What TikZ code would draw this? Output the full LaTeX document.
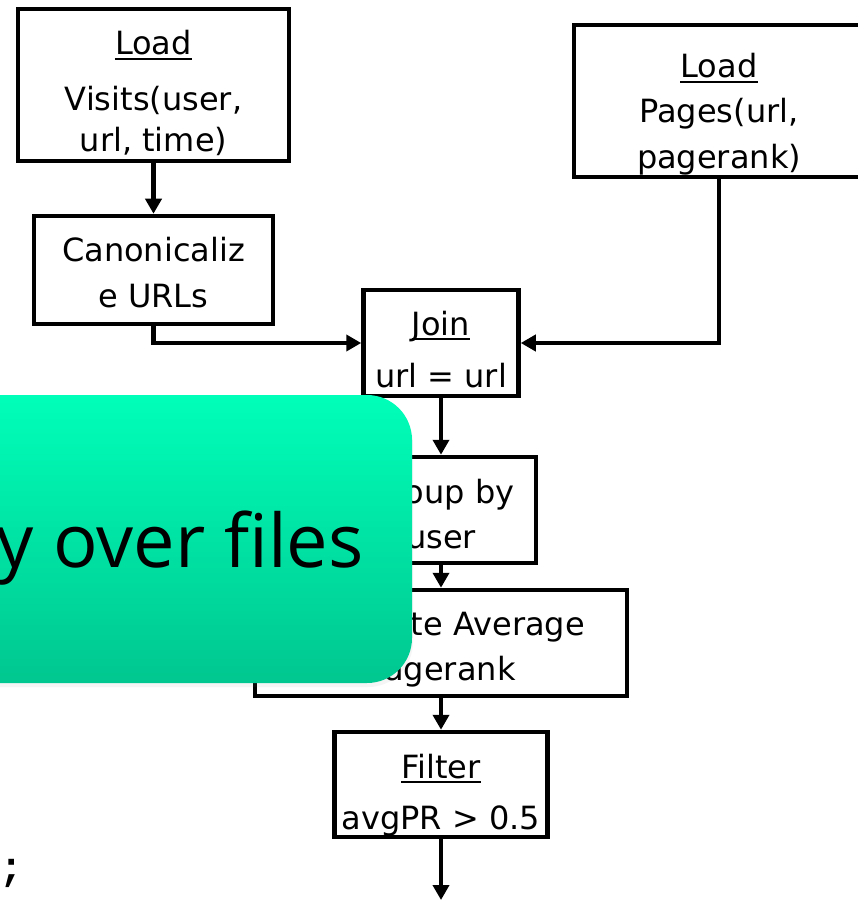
\documentclass[tikz,border=0pt]{standalone}
\usepackage{fontspec}
\setmainfont{DejaVu Sans}
\newfontfamily\calloutfont{Open Sans}
\newfontfamily\codefont{Liberation Mono}
\usetikzlibrary{arrows.meta,shadows}

\definecolor{calltop}{RGB}{0,255,185}
\definecolor{callbot}{RGB}{0,199,143}

\begin{document}
\begin{tikzpicture}[x=1pt,y=-1pt,
  box/.style={draw, line width=4.5pt, rectangle, inner sep=0pt},
  lbl/.style={inner sep=0pt, anchor=base, font=\fontsize{32}{38}\selectfont},
  uline/.style={line width=2pt},
  flow/.style={line width=4.5pt, -{Triangle[length=15pt,width=16pt]}},
]
\useasboundingbox[fill=white] (0,0) rectangle (858,901);

% operator boxes
\node[box, minimum width=271pt, minimum height=152pt] (visits) at (153.5,85) {};
\node[box, minimum width=239pt, minimum height=108pt] (canon)  at (153.5,270) {};
\node[box, minimum width=290pt, minimum height=152pt] (pages)  at (719,101) {};
\node[box, minimum width=155pt, minimum height=106pt] (join)   at (441,343) {};
\node[box, minimum width=190pt, minimum height=106pt] (group)  at (441,510) {};
\node[box, minimum width=372pt, minimum height=106pt] (avg)    at (441,643) {};
\node[box, minimum width=213pt, minimum height=105pt] (filter) at (441,784.5) {};
\coordinate (out) at (441,900);

% box labels
\node[lbl] (visitsA) at (153.5,55)  {Load};
\node[lbl] (visitsB) at (153.5,111) {Visits(user,};
\node[lbl] (visitsC) at (153.5,152) {url, time)};
\node[lbl] (canonA)  at (153.5,261) {Canonicaliz};
\node[lbl] (canonB)  at (153.5,307) {e URLs};
\node[lbl] (pagesA)  at (719,78)    {Load};
\node[lbl] (pagesB)  at (719,123)   {Pages(url,};
\node[lbl] (pagesC)  at (719,169)   {pagerank)};
\node[lbl] (joinA)   at (441,335)   {Join};
\node[lbl] (joinB)   at (441,387)   {url = url};
\node[lbl] (groupA)  at (441,503)   {Group by};
\node[lbl] (groupB)  at (441,548)   {user};
\node[lbl] (avgA)    at (441,635)   {Compute Average};
\node[lbl] (avgB)    at (441,680)   {Pagerank};
\node[lbl] (filterA) at (441,778)   {Filter};
\node[lbl] (filterB) at (441,829)   {avgPR > 0.5};

% underlined operator names
\foreach \n in {visitsA,pagesA,joinA,filterA}
  \draw[uline] ([yshift=-4pt]\n.base west) -- ([yshift=-4pt]\n.base east);

% data flow
\draw[flow] (visits) -- (canon);
\draw[flow] (canon.south) |- (join.west);
\draw[flow] (pages.south) |- (join.east);
\draw[flow] (join) -- (group);
\draw[flow] (group) -- (avg);
\draw[flow] (avg) -- (filter);
\draw[flow] (filter) -- (out);

% trailing code fragment
\node[inner sep=0pt, anchor=base, font=\codefont\bfseries\fontsize{40}{40}\selectfont] (semi) at (12,880) {;};

% green callout
\path[rounded corners=45pt, top color=calltop, bottom color=callbot,
      drop shadow={opacity=0.08, shadow xshift=1pt, shadow yshift=-4pt}]
  (-80,395) rectangle (412,683);
\node[inner sep=0pt, anchor=base east, font=\calloutfont\fontsize{74}{80}\selectfont] (calltext) at (364,567) {y over files};
\end{tikzpicture}
\end{document}
